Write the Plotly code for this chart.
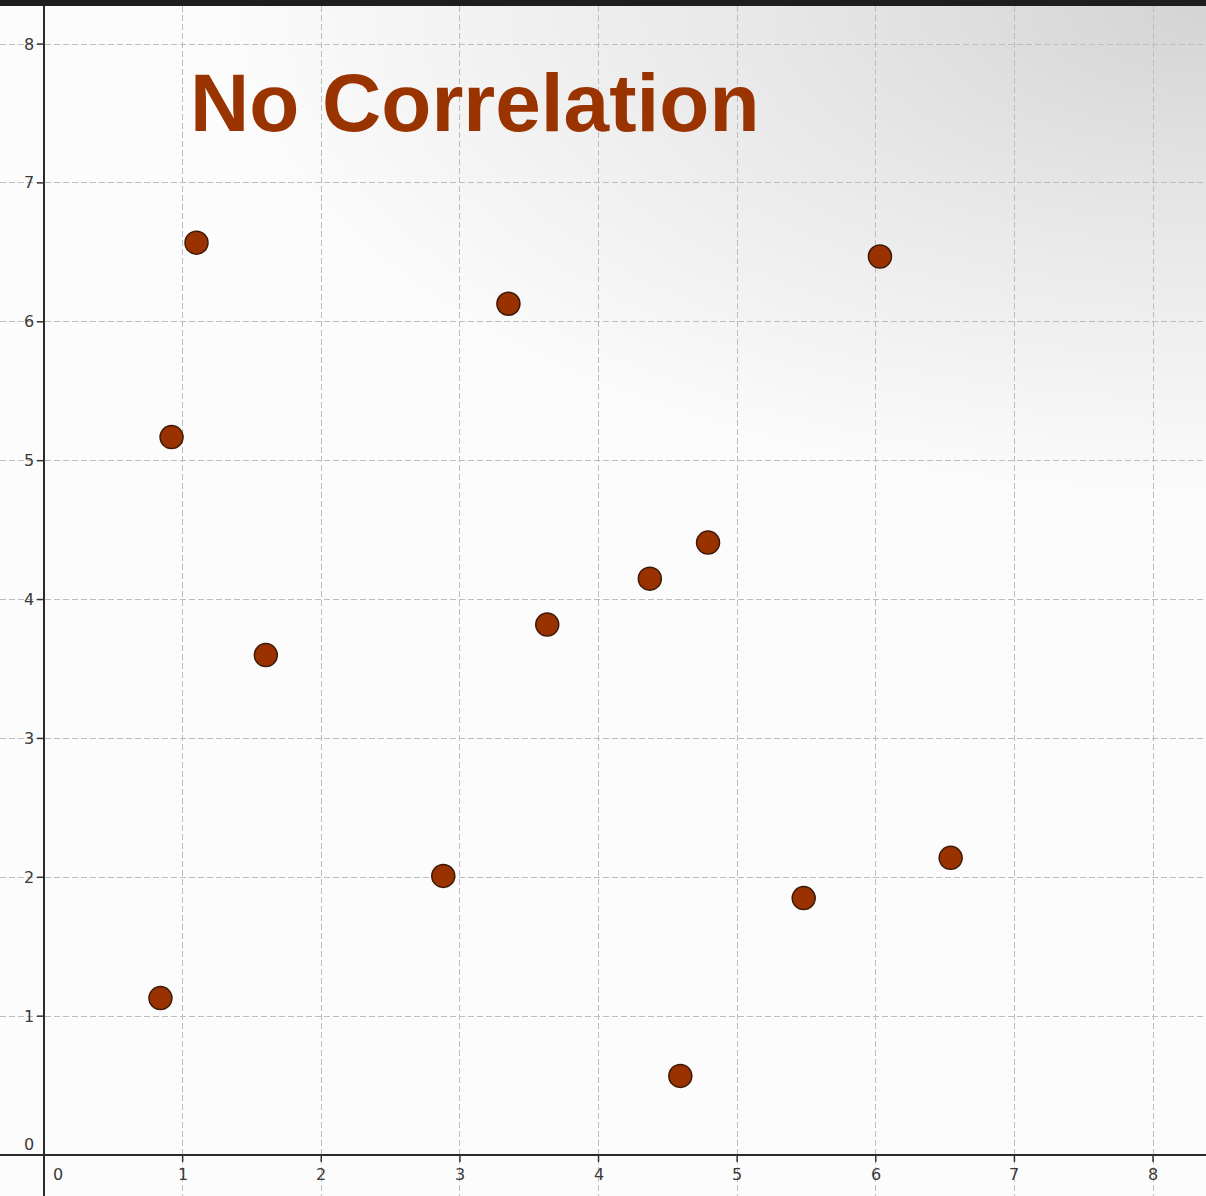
import base64
import plotly.graph_objects as go

# Data
x_vals = [0.84, 0.92, 1.10, 1.60, 2.88, 3.35, 3.63, 4.37, 4.79, 4.59, 5.48, 6.03, 6.54]
y_vals = [1.13, 5.17, 6.57, 3.60, 2.01, 6.13, 3.82, 4.15, 4.41, 0.57, 1.85, 6.47, 2.14]
x_ticks = [0, 1, 2, 3, 4, 5, 6, 7, 8]
y_ticks = [0, 1, 2, 3, 4, 5, 6, 7, 8]
title_text = "No Correlation"

W, H = 1206, 1196
TOP = 6

# background gradient (decoration)
svg = f'''<svg xmlns="http://www.w3.org/2000/svg" width="{W}" height="{H-TOP}" viewBox="0 0 {W} {H-TOP}" preserveAspectRatio="none">
<defs><radialGradient id="g" gradientUnits="userSpaceOnUse" cx="0" cy="0" r="1000" gradientTransform="translate({W},0) scale(1,0.5)">
<stop offset="0" stop-color="#d4d4d4"/><stop offset="0.45" stop-color="#e8e8e8"/><stop offset="1" stop-color="#fcfcfc"/></radialGradient></defs>
<rect width="{W}" height="{H-TOP}" fill="#fcfcfc"/>
<rect width="{W}" height="{H-TOP}" fill="url(#g)"/></svg>'''
svg_uri = "data:image/svg+xml;base64," + base64.b64encode(svg.encode()).decode()

fig = go.Figure()
fig.add_trace(go.Scatter(
    x=x_vals, y=y_vals, mode="markers",
    marker=dict(size=23, color="#9a3200", line=dict(color="#3a1a08", width=1.5)),
    hoverinfo="x+y", showlegend=False,
))

annotations = []
shapes = []
lab_font = dict(family="DejaVu Sans, Arial, sans-serif", size=16, color="#3a3a3a")
for t in x_ticks:
    if t == 0:
        annotations.append(dict(x=t, y=0, xref="x", yref="y", text=str(t), showarrow=False,
                                xanchor="center", yanchor="middle", xshift=14, yshift=-19, font=lab_font))
    else:
        annotations.append(dict(x=t, y=0, xref="x", yref="y", text=str(t), showarrow=False,
                                xanchor="center", yanchor="middle", yshift=-19, font=lab_font))
        shapes.append(dict(type="line", xref="x", yref="y", ysizemode="pixel", yanchor=0,
                           x0=t, x1=t, y0=0, y1=-7, line=dict(color="#333333", width=1.5)))
for t in y_ticks:
    if t == 0:
        annotations.append(dict(x=0, y=t, xref="x", yref="y", text=str(t), showarrow=False,
                                xanchor="right", yanchor="middle", xshift=-8, yshift=11, font=lab_font))
    else:
        annotations.append(dict(x=0, y=t, xref="x", yref="y", text=str(t), showarrow=False,
                                xanchor="right", yanchor="middle", xshift=-8, font=lab_font))
        shapes.append(dict(type="line", xref="x", yref="y", xsizemode="pixel", xanchor=0,
                           x0=0, x1=-7, y0=t, y1=t, line=dict(color="#333333", width=1.5)))

annotations.append(dict(x=1.04, y=7.58, xref="x", yref="y", text=f"<b>{title_text}</b>",
                        showarrow=False, xanchor="left", yanchor="middle",
                        font=dict(family="Liberation Sans, Arial, sans-serif", size=82, color="#993300")))

axis_common = dict(
    showgrid=True, gridcolor="#bdbdbd", gridwidth=1, griddash="6px,3px",
    zeroline=True, zerolinecolor="#2b2b2b", zerolinewidth=2,
    showticklabels=False, ticks="", showline=False, dtick=1, tick0=0,
    fixedrange=True,
)

fig.update_layout(
    width=W, height=H,
    margin=dict(l=0, r=0, t=TOP, b=0, pad=0),
    paper_bgcolor="#1e1e1e",
    plot_bgcolor="rgba(0,0,0,0)",
    xaxis=dict(range=[-0.3175, 8.382], **axis_common),
    yaxis=dict(range=[-0.295, 8.274], **axis_common),
    annotations=annotations,
    shapes=shapes,
    images=[dict(source=svg_uri, xref="paper", yref="paper", x=0, y=1, sizex=1, sizey=1,
                 xanchor="left", yanchor="top", sizing="stretch", layer="below")],
)

fig.write_html("out.html", config={"displayModeBar": False},
               post_script="document.body.style.margin='0';document.body.style.overflow='hidden';")
